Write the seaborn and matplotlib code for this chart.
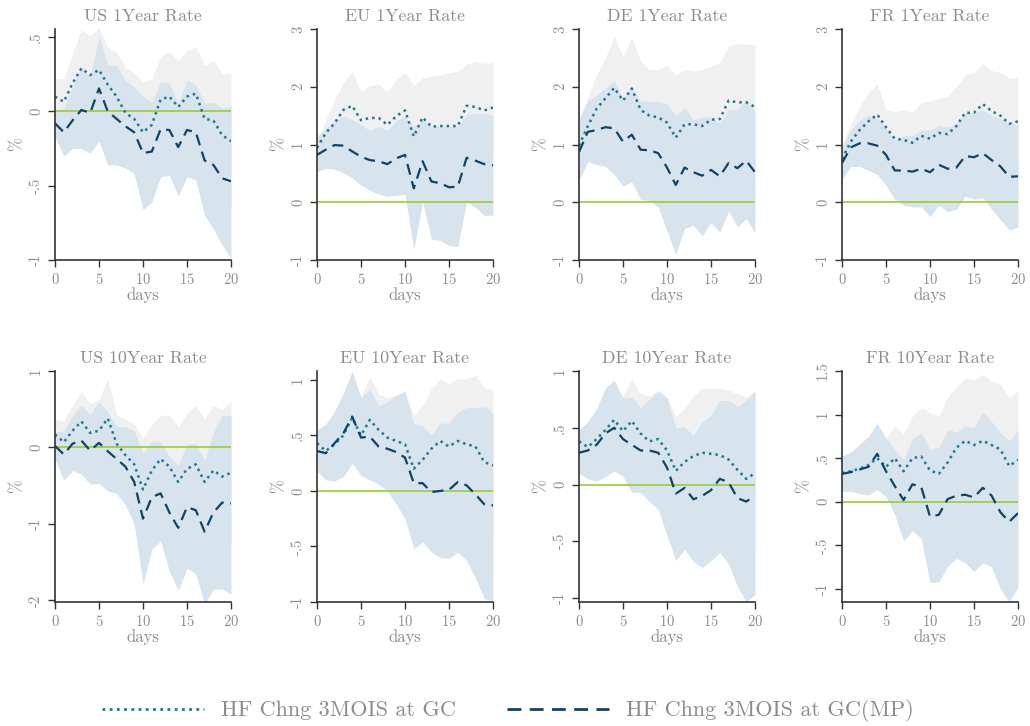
import numpy as np
import pandas as pd
import seaborn as sns
from matplotlib import pyplot as plt

days = list(range(21))

titles = ['US 1Year Rate', 'EU 1Year Rate', 'DE 1Year Rate', 'FR 1Year Rate',
          'US 10Year Rate', 'EU 10Year Rate', 'DE 10Year Rate', 'FR 10Year Rate']

# HF Chng 3MOIS at GC (dotted)
gc = [
    [0.10, 0.065, 0.19, 0.29, 0.245, 0.28, 0.18, 0.10, -0.01, -0.05, -0.14, -0.09, 0.08, 0.10, 0.03, 0.10, 0.12, -0.05, -0.06, -0.16, -0.20],
    [0.94, 1.20, 1.37, 1.60, 1.67, 1.42, 1.46, 1.46, 1.34, 1.49, 1.59, 1.14, 1.47, 1.31, 1.32, 1.32, 1.32, 1.67, 1.65, 1.59, 1.64],
    [0.98, 1.32, 1.62, 1.80, 1.98, 1.76, 1.97, 1.60, 1.50, 1.47, 1.38, 1.12, 1.35, 1.35, 1.32, 1.43, 1.44, 1.76, 1.73, 1.73, 1.65],
    [0.75, 1.05, 1.25, 1.40, 1.52, 1.30, 1.10, 1.08, 1.03, 1.15, 1.10, 1.20, 1.18, 1.32, 1.55, 1.55, 1.70, 1.58, 1.50, 1.36, 1.40],
    [0.17, 0.07, 0.22, 0.34, 0.19, 0.22, 0.38, 0.05, -0.10, -0.22, -0.55, -0.30, -0.15, -0.25, -0.45, -0.28, -0.22, -0.45, -0.30, -0.38, -0.33],
    [0.43, 0.36, 0.42, 0.50, 0.66, 0.50, 0.64, 0.55, 0.48, 0.45, 0.42, 0.20, 0.28, 0.38, 0.45, 0.40, 0.45, 0.42, 0.40, 0.26, 0.23],
    [0.38, 0.33, 0.40, 0.48, 0.57, 0.47, 0.56, 0.45, 0.38, 0.40, 0.30, 0.12, 0.20, 0.25, 0.28, 0.27, 0.26, 0.22, 0.13, 0.05, 0.10],
    [0.33, 0.35, 0.38, 0.42, 0.50, 0.40, 0.50, 0.35, 0.50, 0.52, 0.36, 0.32, 0.45, 0.62, 0.70, 0.65, 0.70, 0.65, 0.60, 0.41, 0.48],
]
gc_lo = [
    [-0.02, -0.09, -0.01, 0.03, -0.02, 0.0, -0.07, -0.20, -0.32, -0.36, -0.48, -0.40, -0.21, -0.20, -0.28, -0.21, -0.20, -0.41, -0.46, -0.57, -0.65],
    [0.83, 0.97, 0.97, 1.12, 1.09, 0.92, 0.90, 0.87, 0.78, 0.84, 0.94, 0.25, 0.79, 0.43, 0.43, 0.40, 0.37, 0.95, 0.86, 0.78, 0.85],
    [0.56, 0.82, 1.04, 1.10, 1.09, 1.00, 1.09, 0.75, 0.70, 0.64, 0.39, 0.04, 0.40, 0.43, 0.34, 0.51, 0.46, 0.82, 0.71, 0.72, 0.57],
    [0.50, 0.75, 0.85, 0.90, 0.99, 1.00, 0.63, 0.56, 0.51, 0.57, 0.45, 0.60, 0.54, 0.64, 0.90, 0.85, 1.00, 0.88, 0.75, 0.57, 0.63],
    [-0.03, -0.21, -0.11, -0.05, -0.19, -0.19, -0.14, -0.33, -0.57, -0.74, -1.22, -0.90, -0.72, -0.92, -1.17, -1.01, -0.99, -1.28, -1.15, -1.26, -1.26],
    [0.36, 0.17, 0.19, 0.20, 0.37, 0.15, 0.25, 0.23, 0.12, 0.04, -0.04, -0.28, -0.21, -0.16, -0.11, -0.16, -0.11, -0.17, -0.24, -0.41, -0.45],
    [0.28, 0.11, 0.15, 0.16, 0.29, 0.16, 0.19, 0.10, -0.02, -0.03, -0.17, -0.36, -0.27, -0.28, -0.29, -0.31, -0.33, -0.39, -0.54, -0.67, -0.62],
    [0.21, 0.20, 0.16, 0.14, 0.15, 0.07, 0.13, -0.08, 0.02, -0.04, -0.30, -0.34, -0.30, -0.08, -0.02, -0.10, -0.06, -0.08, -0.15, -0.38, -0.31],
]
gc_hi = [
    [0.22, 0.22, 0.39, 0.55, 0.51, 0.56, 0.43, 0.40, 0.30, 0.26, 0.20, 0.215, 0.37, 0.405, 0.34, 0.41, 0.435, 0.31, 0.345, 0.255, 0.255],
    [1.05, 1.43, 1.77, 2.08, 2.25, 1.92, 2.02, 2.05, 1.90, 2.14, 2.24, 2.03, 2.15, 2.19, 2.21, 2.24, 2.27, 2.39, 2.44, 2.40, 2.43],
    [1.40, 1.82, 2.20, 2.50, 2.87, 2.52, 2.85, 2.45, 2.30, 2.30, 2.37, 2.20, 2.30, 2.27, 2.30, 2.35, 2.42, 2.70, 2.75, 2.74, 2.73],
    [1.00, 1.35, 1.65, 1.90, 2.05, 1.60, 1.57, 1.60, 1.55, 1.73, 1.75, 1.80, 1.82, 2.00, 2.20, 2.25, 2.40, 2.28, 2.25, 2.15, 2.17],
    [0.37, 0.35, 0.55, 0.73, 0.57, 0.63, 0.90, 0.43, 0.37, 0.30, 0.12, 0.30, 0.42, 0.42, 0.27, 0.45, 0.55, 0.38, 0.55, 0.50, 0.60],
    [0.50, 0.55, 0.65, 0.80, 0.95, 0.85, 1.03, 0.87, 0.84, 0.86, 0.88, 0.68, 0.77, 0.92, 1.01, 0.96, 1.01, 1.01, 1.04, 0.93, 0.91],
    [0.48, 0.55, 0.65, 0.80, 0.85, 0.78, 0.93, 0.80, 0.78, 0.83, 0.77, 0.60, 0.67, 0.78, 0.85, 0.85, 0.85, 0.83, 0.80, 0.77, 0.82],
    [0.45, 0.50, 0.60, 0.70, 0.85, 0.73, 0.87, 0.78, 0.98, 1.08, 1.02, 0.98, 1.20, 1.32, 1.42, 1.40, 1.46, 1.38, 1.35, 1.20, 1.27],
]

# HF Chng 3MOIS at GC(MP) (dashed)
mp = [
    [-0.08, -0.14, -0.06, 0.01, -0.01, 0.155, 0.0, -0.05, -0.10, -0.14, -0.28, -0.27, -0.12, -0.125, -0.24, -0.125, -0.14, -0.33, -0.36, -0.45, -0.47],
    [0.82, 0.91, 0.99, 0.98, 0.88, 0.79, 0.73, 0.71, 0.66, 0.76, 0.82, 0.24, 0.71, 0.36, 0.33, 0.26, 0.27, 0.77, 0.72, 0.66, 0.64],
    [0.87, 1.22, 1.25, 1.30, 1.28, 1.05, 1.17, 0.91, 0.90, 0.85, 0.60, 0.30, 0.60, 0.52, 0.46, 0.56, 0.45, 0.68, 0.59, 0.72, 0.52],
    [0.68, 0.95, 1.02, 1.02, 0.98, 0.82, 0.55, 0.55, 0.53, 0.58, 0.52, 0.65, 0.58, 0.60, 0.80, 0.78, 0.85, 0.73, 0.62, 0.44, 0.45],
    [0.02, -0.09, 0.05, 0.09, -0.04, 0.06, -0.05, -0.15, -0.25, -0.45, -0.93, -0.65, -0.60, -0.85, -1.05, -0.78, -0.82, -1.10, -0.85, -0.72, -0.73],
    [0.36, 0.34, 0.43, 0.52, 0.67, 0.48, 0.49, 0.40, 0.38, 0.35, 0.30, 0.07, 0.07, -0.01, 0.0, 0.01, 0.08, 0.05, -0.03, -0.12, -0.13],
    [0.28, 0.30, 0.35, 0.45, 0.50, 0.40, 0.35, 0.30, 0.30, 0.28, 0.15, -0.08, -0.03, -0.13, -0.10, -0.05, 0.05, 0.02, -0.12, -0.15, -0.10],
    [0.32, 0.34, 0.37, 0.40, 0.55, 0.35, 0.18, 0.02, 0.20, 0.17, -0.17, -0.15, 0.03, 0.07, 0.08, 0.05, 0.16, 0.07, -0.12, -0.23, -0.13],
]
mp_lo = [
    [-0.17, -0.30, -0.25, -0.25, -0.28, -0.20, -0.36, -0.36, -0.38, -0.42, -0.66, -0.61, -0.44, -0.43, -0.57, -0.44, -0.46, -0.70, -0.79, -0.90, -0.99],
    [0.53, 0.59, 0.57, 0.51, 0.42, 0.30, 0.21, 0.14, 0.10, 0.12, 0.14, -0.82, 0.01, -0.64, -0.66, -0.75, -0.77, 0.01, -0.09, -0.23, -0.22],
    [0.38, 0.70, 0.65, 0.62, 0.48, 0.28, 0.35, 0.05, 0.03, -0.08, -0.50, -0.90, -0.45, -0.40, -0.58, -0.35, -0.52, -0.15, -0.43, -0.28, -0.53],
    [0.40, 0.62, 0.62, 0.55, 0.48, 0.30, 0.05, -0.05, -0.08, -0.08, -0.25, -0.05, -0.16, -0.12, 0.10, 0.05, 0.08, -0.12, -0.30, -0.48, -0.43],
    [-0.15, -0.43, -0.30, -0.35, -0.48, -0.47, -0.57, -0.60, -0.75, -1.00, -1.78, -1.33, -1.22, -1.62, -1.87, -1.58, -1.65, -2.05, -1.85, -1.85, -1.92],
    [0.18, 0.10, 0.09, 0.13, 0.25, 0.14, 0.10, 0.06, 0.0, -0.12, -0.25, -0.52, -0.46, -0.55, -0.60, -0.61, -0.55, -0.63, -0.78, -0.97, -0.99],
    [0.10, 0.05, 0.03, 0.07, 0.12, 0.07, -0.07, -0.07, -0.15, -0.22, -0.45, -0.67, -0.57, -0.68, -0.73, -0.67, -0.60, -0.70, -0.90, -1.03, -0.97],
    [0.12, 0.12, 0.09, 0.08, 0.14, 0.06, -0.15, -0.45, -0.33, -0.42, -0.93, -0.92, -0.74, -0.65, -0.70, -0.80, -0.70, -0.75, -1.00, -1.15, -0.98],
]
mp_hi = [
    [0.0, 0.02, 0.165, 0.30, 0.235, 0.51, 0.31, 0.31, 0.21, 0.165, 0.10, 0.065, 0.20, 0.19, 0.055, 0.21, 0.18, 0.055, 0.065, 0.02, 0.035],
    [1.14, 1.28, 1.40, 1.50, 1.43, 1.34, 1.24, 1.31, 1.24, 1.41, 1.49, 1.31, 1.43, 1.32, 1.32, 1.31, 1.31, 1.51, 1.54, 1.54, 1.50],
    [1.45, 1.75, 1.85, 1.98, 2.10, 1.80, 2.00, 1.75, 1.75, 1.75, 1.70, 1.50, 1.65, 1.43, 1.48, 1.47, 1.37, 1.60, 1.60, 1.78, 1.57],
    [0.95, 1.25, 1.42, 1.50, 1.45, 1.28, 1.08, 1.15, 1.15, 1.25, 1.25, 1.33, 1.30, 1.35, 1.55, 1.55, 1.60, 1.50, 1.45, 1.37, 1.34],
    [0.20, 0.22, 0.42, 0.55, 0.43, 0.60, 0.46, 0.28, 0.27, 0.22, -0.08, 0.08, 0.07, -0.12, -0.23, 0.04, 0.05, -0.17, 0.20, 0.42, 0.42],
    [0.55, 0.60, 0.72, 0.88, 1.08, 0.84, 0.92, 0.77, 0.80, 0.86, 0.90, 0.60, 0.59, 0.50, 0.61, 0.61, 0.71, 0.75, 0.75, 0.76, 0.70],
    [0.48, 0.55, 0.67, 0.85, 0.92, 0.76, 0.77, 0.68, 0.75, 0.82, 0.76, 0.50, 0.51, 0.43, 0.55, 0.61, 0.74, 0.74, 0.69, 0.74, 0.82],
    [0.52, 0.57, 0.66, 0.75, 0.90, 0.73, 0.60, 0.48, 0.73, 0.79, 0.60, 0.62, 0.82, 0.80, 0.87, 0.85, 1.03, 0.92, 0.79, 0.70, 0.82],
]

y_ticks = [
    [-1, -0.5, 0, 0.5], [-1, 0, 1, 2, 3], [-1, 0, 1, 2, 3], [-1, 0, 1, 2, 3],
    [-2, -1, 0, 1], [-1, -0.5, 0, 0.5, 1], [-1, -0.5, 0, 0.5, 1], [-1, -0.5, 0, 0.5, 1, 1.5],
]
y_limits = [(-1.0, 0.555), (-1.0, 3.0), (-1.0, 3.0), (-1.0, 3.0),
            (-2.02, 1.0), (-1.0, 1.08), (-1.035, 1.0), (-1.15, 1.5)]


def tick_label(v):
    s = ('%g' % v)
    return s.replace('0.', '.')


sns.set_style('ticks')
plt.rcParams['font.family'] = ['cmr10', 'DejaVu Serif']
plt.rcParams['axes.formatter.use_mathtext'] = True

grey_txt = '#8c8c8c'
c_gc = '#1d7891'
c_mp = '#0d4467'

fig = plt.figure(figsize=(10.30, 7.26), dpi=100)
lefts = [55, 317, 579, 842]
tops = [29, 371]

for k in range(8):
    r, c = divmod(k, 4)
    ax = fig.add_axes([lefts[c] / 1030, 1 - (tops[r] + 231) / 726, 176 / 1030, 231 / 726])
    ax.fill_between(days, gc_lo[k], gc_hi[k], color='#f0f0f0', lw=0)
    ax.fill_between(days, mp_lo[k], mp_hi[k], color='#d7e3ed', lw=0)
    ax.axhline(0, color='#9acd32', lw=1.2)
    df = pd.DataFrame({'days': days, 'gc': gc[k], 'mp': mp[k]})
    sns.lineplot(data=df, x='days', y='gc', ax=ax, color=c_gc, lw=1.8,
                 linestyle=(0, (1, 1.6)))
    sns.lineplot(data=df, x='days', y='mp', ax=ax, color=c_mp, lw=1.6,
                 linestyle=(0, (5, 3)))
    ax.set_xlim(0, 20)
    ax.set_ylim(*y_limits[k])
    ax.set_xticks([0, 5, 10, 15, 20])
    ax.set_yticks(y_ticks[k])
    ax.set_yticklabels([tick_label(v) for v in y_ticks[k]], rotation=90, va='center')
    ax.tick_params(colors='#333333', labelcolor=grey_txt, labelsize=10.5, length=5, width=1)
    for sp in ['left', 'bottom']:
        ax.spines[sp].set_color('#333333')
        ax.spines[sp].set_linewidth(1.2)
    sns.despine(ax=ax)
    ax.set_title(titles[k], color=grey_txt, fontsize=12.8, pad=6)
    ax.set_xlabel('days', color=grey_txt, fontsize=12, labelpad=0)
    ax.set_ylabel('%', color=grey_txt, fontsize=12, labelpad=4)

handles = [
    plt.Line2D([], [], color=c_gc, lw=2, linestyle=(0, (1, 1.6))),
    plt.Line2D([], [], color=c_mp, lw=2, linestyle=(0, (5, 3))),
]
fig.legend(handles, ['HF Chng 3MOIS at GC', 'HF Chng 3MOIS at GC(MP)'],
           loc='center', bbox_to_anchor=(0.493, 1 - 711 / 726), ncol=2, frameon=False,
           handlelength=4.6, handletextpad=0.75, columnspacing=2.3,
           labelcolor=grey_txt, fontsize=16)

fig.savefig('out.png', dpi=100)
